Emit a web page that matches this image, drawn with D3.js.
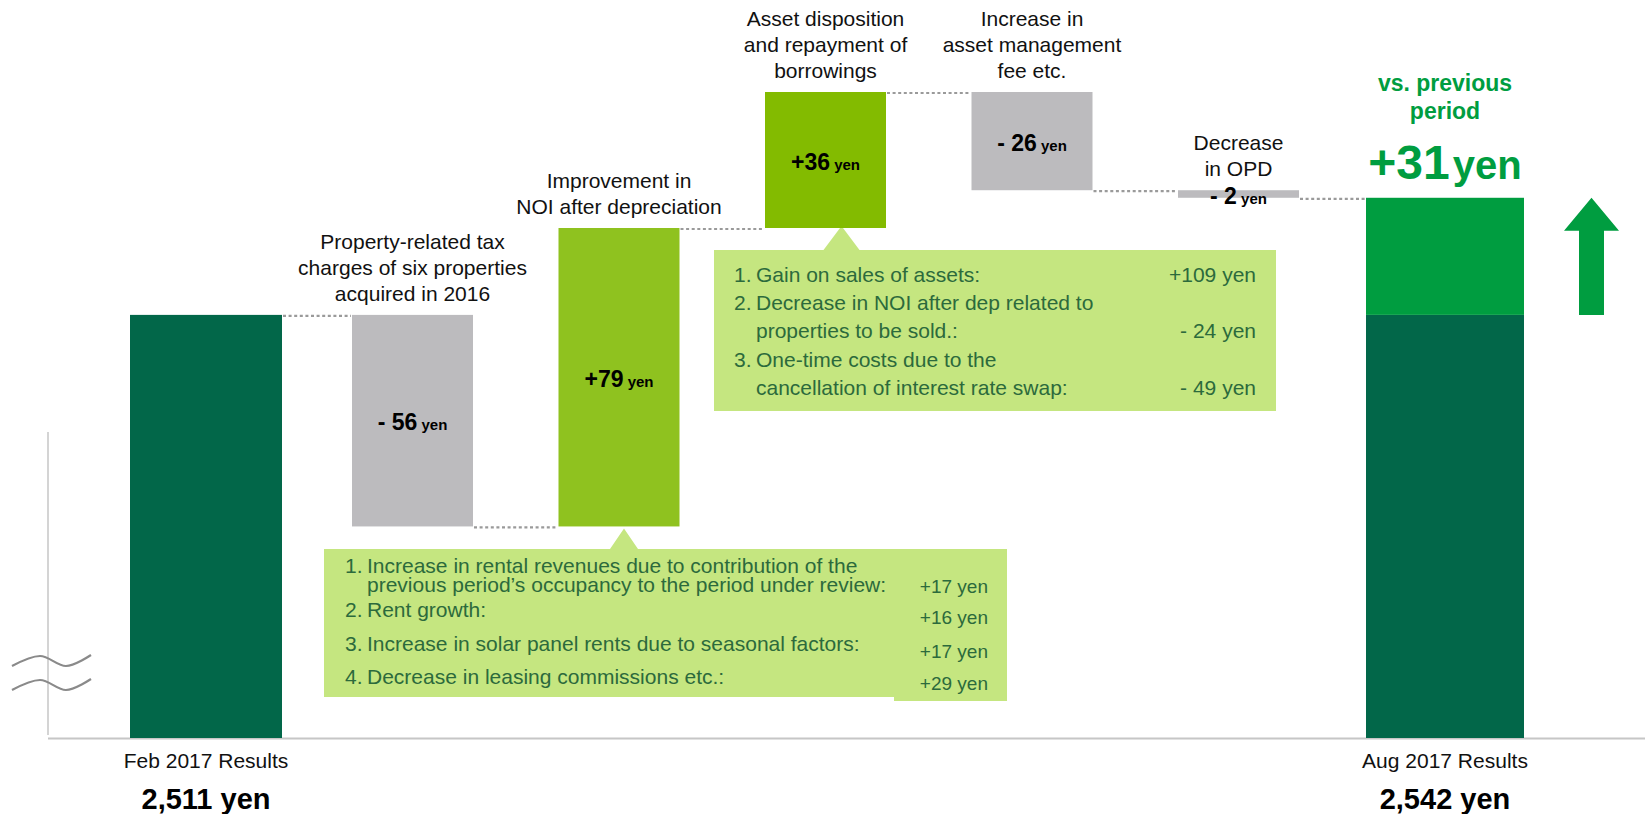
<!DOCTYPE html>
<html>
<head>
<meta charset="utf-8">
<script src="https://cdn.jsdelivr.net/npm/d3@7"></script>
<style>
  body { margin: 0; background: #fff; }
  svg { display: block; font-family: 'Liberation Sans', Arial, sans-serif; }
</style>
</head>
<body>
<svg id="chart"></svg>
<script>
// ---- data ----
var categories = ['Feb 2017 Results', 'Property tax', 'NOI improvement', 'Asset disposition', 'AM fee', 'OPD', 'Aug 2017 Results'];
var baseValue = 2399;          // broken axis, bars start here
var startValue = 2511;
var deltas = [-56, 79, 36, -26, -2];
var endValue = 2542;
var totalLabels = ['2,511 yen', '2,542 yen'];
var stepTitles = [
    ['Property-related tax', 'charges of six properties', 'acquired in 2016'],
    ['Improvement in', 'NOI after depreciation'],
    ['Asset disposition', 'and repayment of', 'borrowings'],
    ['Increase in', 'asset management', 'fee etc.'],
    ['Decrease', 'in OPD']
];
var noiItems = [
    ['1.', 'Increase in rental revenues due to contribution of the', 'previous period\u2019s occupancy to the period under review:'],
    ['2.', 'Rent growth:'],
    ['3.', 'Increase in solar panel rents due to seasonal factors:'],
    ['4.', 'Decrease in leasing commissions etc.:']
];
var noiValues = ['+17 yen', '+16 yen', '+17 yen', '+29 yen'];
var assetItems = [
    ['1.', 'Gain on sales of assets:'],
    ['2.', 'Decrease in NOI after dep related to', 'properties to be sold.:'],
    ['3.', 'One-time costs due to the', 'cancellation of interest rate swap:']
];
var assetValues = ['+109 yen', '- 24 yen', '- 49 yen'];

// ---- styles ----
var width = 1645,
    height = 814;
var stepColors = ['#bcbbbe', '#8fc21f', '#83bb00', '#bcbbbe', '#bcbbbe'];
var darkGreen = '#026749',
    brightGreen = '#009d40',
    boxFill = '#c5e680',
    boxText = '#2c6a3c';

var svg = d3.select('#chart')
    .attr('width', width)
    .attr('height', height);

var x = d3.scalePoint()
    .domain(categories)
    .range([206, 1445]);

var y = d3.scaleLinear()
    .domain([baseValue, 2570])
    .range([738, 92]);

var stepW = 121;
function barW(i) {
    if (i === 0) return 152;
    if (i === categories.length - 1) return 158;
    return stepW;
}

// Build waterfall segments
var bars = [];
var running = startValue;
bars.push({ i: 0, from: baseValue, to: startValue });
deltas.forEach(function (d, k) {
    bars.push({ i: k + 1, from: running, to: running + d, delta: d });
    running += d;
});
bars.push({ i: categories.length - 1, from: baseValue, to: endValue });

// axis lines (broken axis)
svg.append('line')
    .attr('x1', 48).attr('x2', 48)
    .attr('y1', 432).attr('y2', y(baseValue) - 3)
    .attr('stroke', '#c6c6c6').attr('stroke-width', 1.5);
svg.append('line')
    .attr('x1', 48).attr('x2', width)
    .attr('y1', y(baseValue) + 0.5).attr('y2', y(baseValue) + 0.5)
    .attr('stroke', '#c6c6c6').attr('stroke-width', 2);

// break marks
var wave = d3.line().curve(d3.curveCardinal);
[0, 24].forEach(function (dy) {
    svg.append('path')
        .attr('d', wave([[12, 666 + dy], [40, 656 + dy], [66, 666 + dy], [91, 655 + dy]]))
        .attr('fill', 'none')
        .attr('stroke', '#8a8a8a')
        .attr('stroke-width', 2.2);
});

// connectors
for (var k = 0; k < bars.length - 1; k++) {
    var a = bars[k], b = bars[k + 1];
    svg.append('line')
        .attr('x1', x(categories[a.i]) + barW(a.i) / 2 + 1)
        .attr('x2', x(categories[b.i]) - barW(b.i) / 2 - 1)
        .attr('y1', y(a.to) + 1).attr('y2', y(a.to) + 1)
        .attr('stroke', '#9a9a9a')
        .attr('stroke-width', 2.2)
        .attr('stroke-dasharray', '3,2.6');
}

// callout boxes (drawn before bars)
function callout(left, top, right, bottom, tipX, tipY, halfBase) {
    var p = d3.path();
    p.moveTo(left, top);
    p.lineTo(tipX - halfBase, top);
    p.lineTo(tipX, tipY);
    p.lineTo(tipX + halfBase, top);
    p.lineTo(right, top);
    p.lineTo(right, bottom);
    p.lineTo(left, bottom);
    p.closePath();
    svg.append('path').attr('d', p.toString()).attr('fill', boxFill);
}

var noiX = x(categories[2]);
var assetX = x(categories[3]);
callout(324, 549, 1007, 697, noiX + 5, y(startValue + deltas[0]) + 2, 14);
callout(714, 250, 1276, 411, assetX + 16, y(startValue + deltas[0] + deltas[1]) - 2, 18);

// bars
bars.forEach(function (d) {
    var cx = x(categories[d.i]), w = barW(d.i);
    if (d.i === categories.length - 1) {
        svg.append('rect')
            .attr('x', cx - w / 2).attr('width', w)
            .attr('y', y(startValue)).attr('height', y(baseValue) - y(startValue))
            .attr('fill', darkGreen);
        svg.append('rect')
            .attr('x', cx - w / 2).attr('width', w)
            .attr('y', y(endValue)).attr('height', y(startValue) - y(endValue))
            .attr('fill', brightGreen);
        return;
    }
    var top = y(Math.max(d.from, d.to)), bot = y(Math.min(d.from, d.to));
    svg.append('rect')
        .attr('x', cx - w / 2).attr('width', w)
        .attr('y', top).attr('height', bot - top)
        .attr('fill', d.i === 0 ? darkGreen : stepColors[d.i - 1]);
});

// step titles and value labels
bars.slice(1, -1).forEach(function (d, k) {
    var cx = x(categories[d.i]);
    var top = y(Math.max(d.from, d.to)), bot = y(Math.min(d.from, d.to));
    var lines = stepTitles[k];
    var t = svg.append('text')
        .attr('text-anchor', 'middle')
        .attr('font-size', 21)
        .attr('fill', '#111');
    lines.forEach(function (s, j) {
        t.append('tspan')
            .attr('x', cx)
            .attr('y', top - 14 - (lines.length - 1 - j) * 26)
            .text(s);
    });
    var v = svg.append('text')
        .attr('x', cx)
        .attr('y', (top + bot) / 2 + 9.5)
        .attr('text-anchor', 'middle')
        .attr('font-weight', 'bold')
        .attr('fill', '#000');
    v.append('tspan').attr('font-size', 23)
        .text(d.delta < 0 ? '- ' + Math.abs(d.delta) : '+' + d.delta);
    v.append('tspan').attr('font-size', 15).text(' yen');
});

// totals labels
[0, categories.length - 1].forEach(function (i, k) {
    var cx = x(categories[i]);
    svg.append('text')
        .attr('x', cx).attr('y', 768)
        .attr('text-anchor', 'middle')
        .attr('font-size', 21)
        .attr('fill', '#111')
        .text(categories[i]);
    svg.append('text')
        .attr('x', cx).attr('y', 809)
        .attr('text-anchor', 'middle')
        .attr('font-size', 29)
        .attr('font-weight', 'bold')
        .attr('fill', '#000')
        .text(totalLabels[k]);
});

// vs previous period
var augX = x(categories[categories.length - 1]);
var head = svg.append('text')
    .attr('text-anchor', 'middle')
    .attr('font-size', 23)
    .attr('font-weight', 'bold')
    .attr('fill', brightGreen);
head.append('tspan').attr('x', augX).attr('y', 91).text('vs. previous');
head.append('tspan').attr('x', augX).attr('y', 119).text('period');
var diff = endValue - startValue;
var big = svg.append('text')
    .attr('x', augX).attr('y', 179)
    .attr('text-anchor', 'middle')
    .attr('font-weight', 'bold')
    .attr('fill', brightGreen);
big.append('tspan').attr('font-size', 48).text('+' + diff);
big.append('tspan').attr('font-size', 40).attr('dx', 3).text('yen');

// up arrow
var ax = 1591.5;
svg.append('path')
    .attr('d', d3.line()([
        [ax, y(endValue)], [ax + 27.5, y(endValue) + 33], [ax + 12.5, y(endValue) + 33],
        [ax + 12.5, y(startValue)], [ax - 12.5, y(startValue)], [ax - 12.5, y(endValue) + 33],
        [ax - 27.5, y(endValue) + 33]
    ]) + 'Z')
    .attr('fill', brightGreen);

// callout texts
function listText(items, values, numX, textX, valX, rows, valRows) {
    items.forEach(function (it, j) {
        svg.append('text')
            .attr('x', numX).attr('y', rows[j][0])
            .attr('font-size', 21).attr('fill', boxText)
            .text(it[0]);
        it.slice(1).forEach(function (s, m) {
            svg.append('text')
                .attr('x', textX).attr('y', rows[j][m])
                .attr('font-size', 21).attr('fill', boxText)
                .text(s);
        });
    });
    return values;
}

listText(noiItems, noiValues, 345, 367, 988,
    [[573, 592], [617], [651], [684]]);
// value column box overlaps the end of the first item
svg.append('rect')
    .attr('x', 894).attr('y', 585).attr('width', 1007 - 894).attr('height', 701 - 585)
    .attr('fill', boxFill);
var noiValY = [593, 624, 658, 690];
noiValues.forEach(function (s, j) {
    svg.append('text')
        .attr('x', 988).attr('y', noiValY[j])
        .attr('text-anchor', 'end')
        .attr('font-size', 19).attr('fill', boxText)
        .text(s);
});

listText(assetItems, assetValues, 734, 756, 1256,
    [[282], [310, 338], [367, 395]]);
var assetValY = [282, 338, 395];
assetValues.forEach(function (s, j) {
    svg.append('text')
        .attr('x', 1256).attr('y', assetValY[j])
        .attr('text-anchor', 'end')
        .attr('font-size', 21).attr('fill', boxText)
        .text(s);
});
</script>
</body>
</html>
